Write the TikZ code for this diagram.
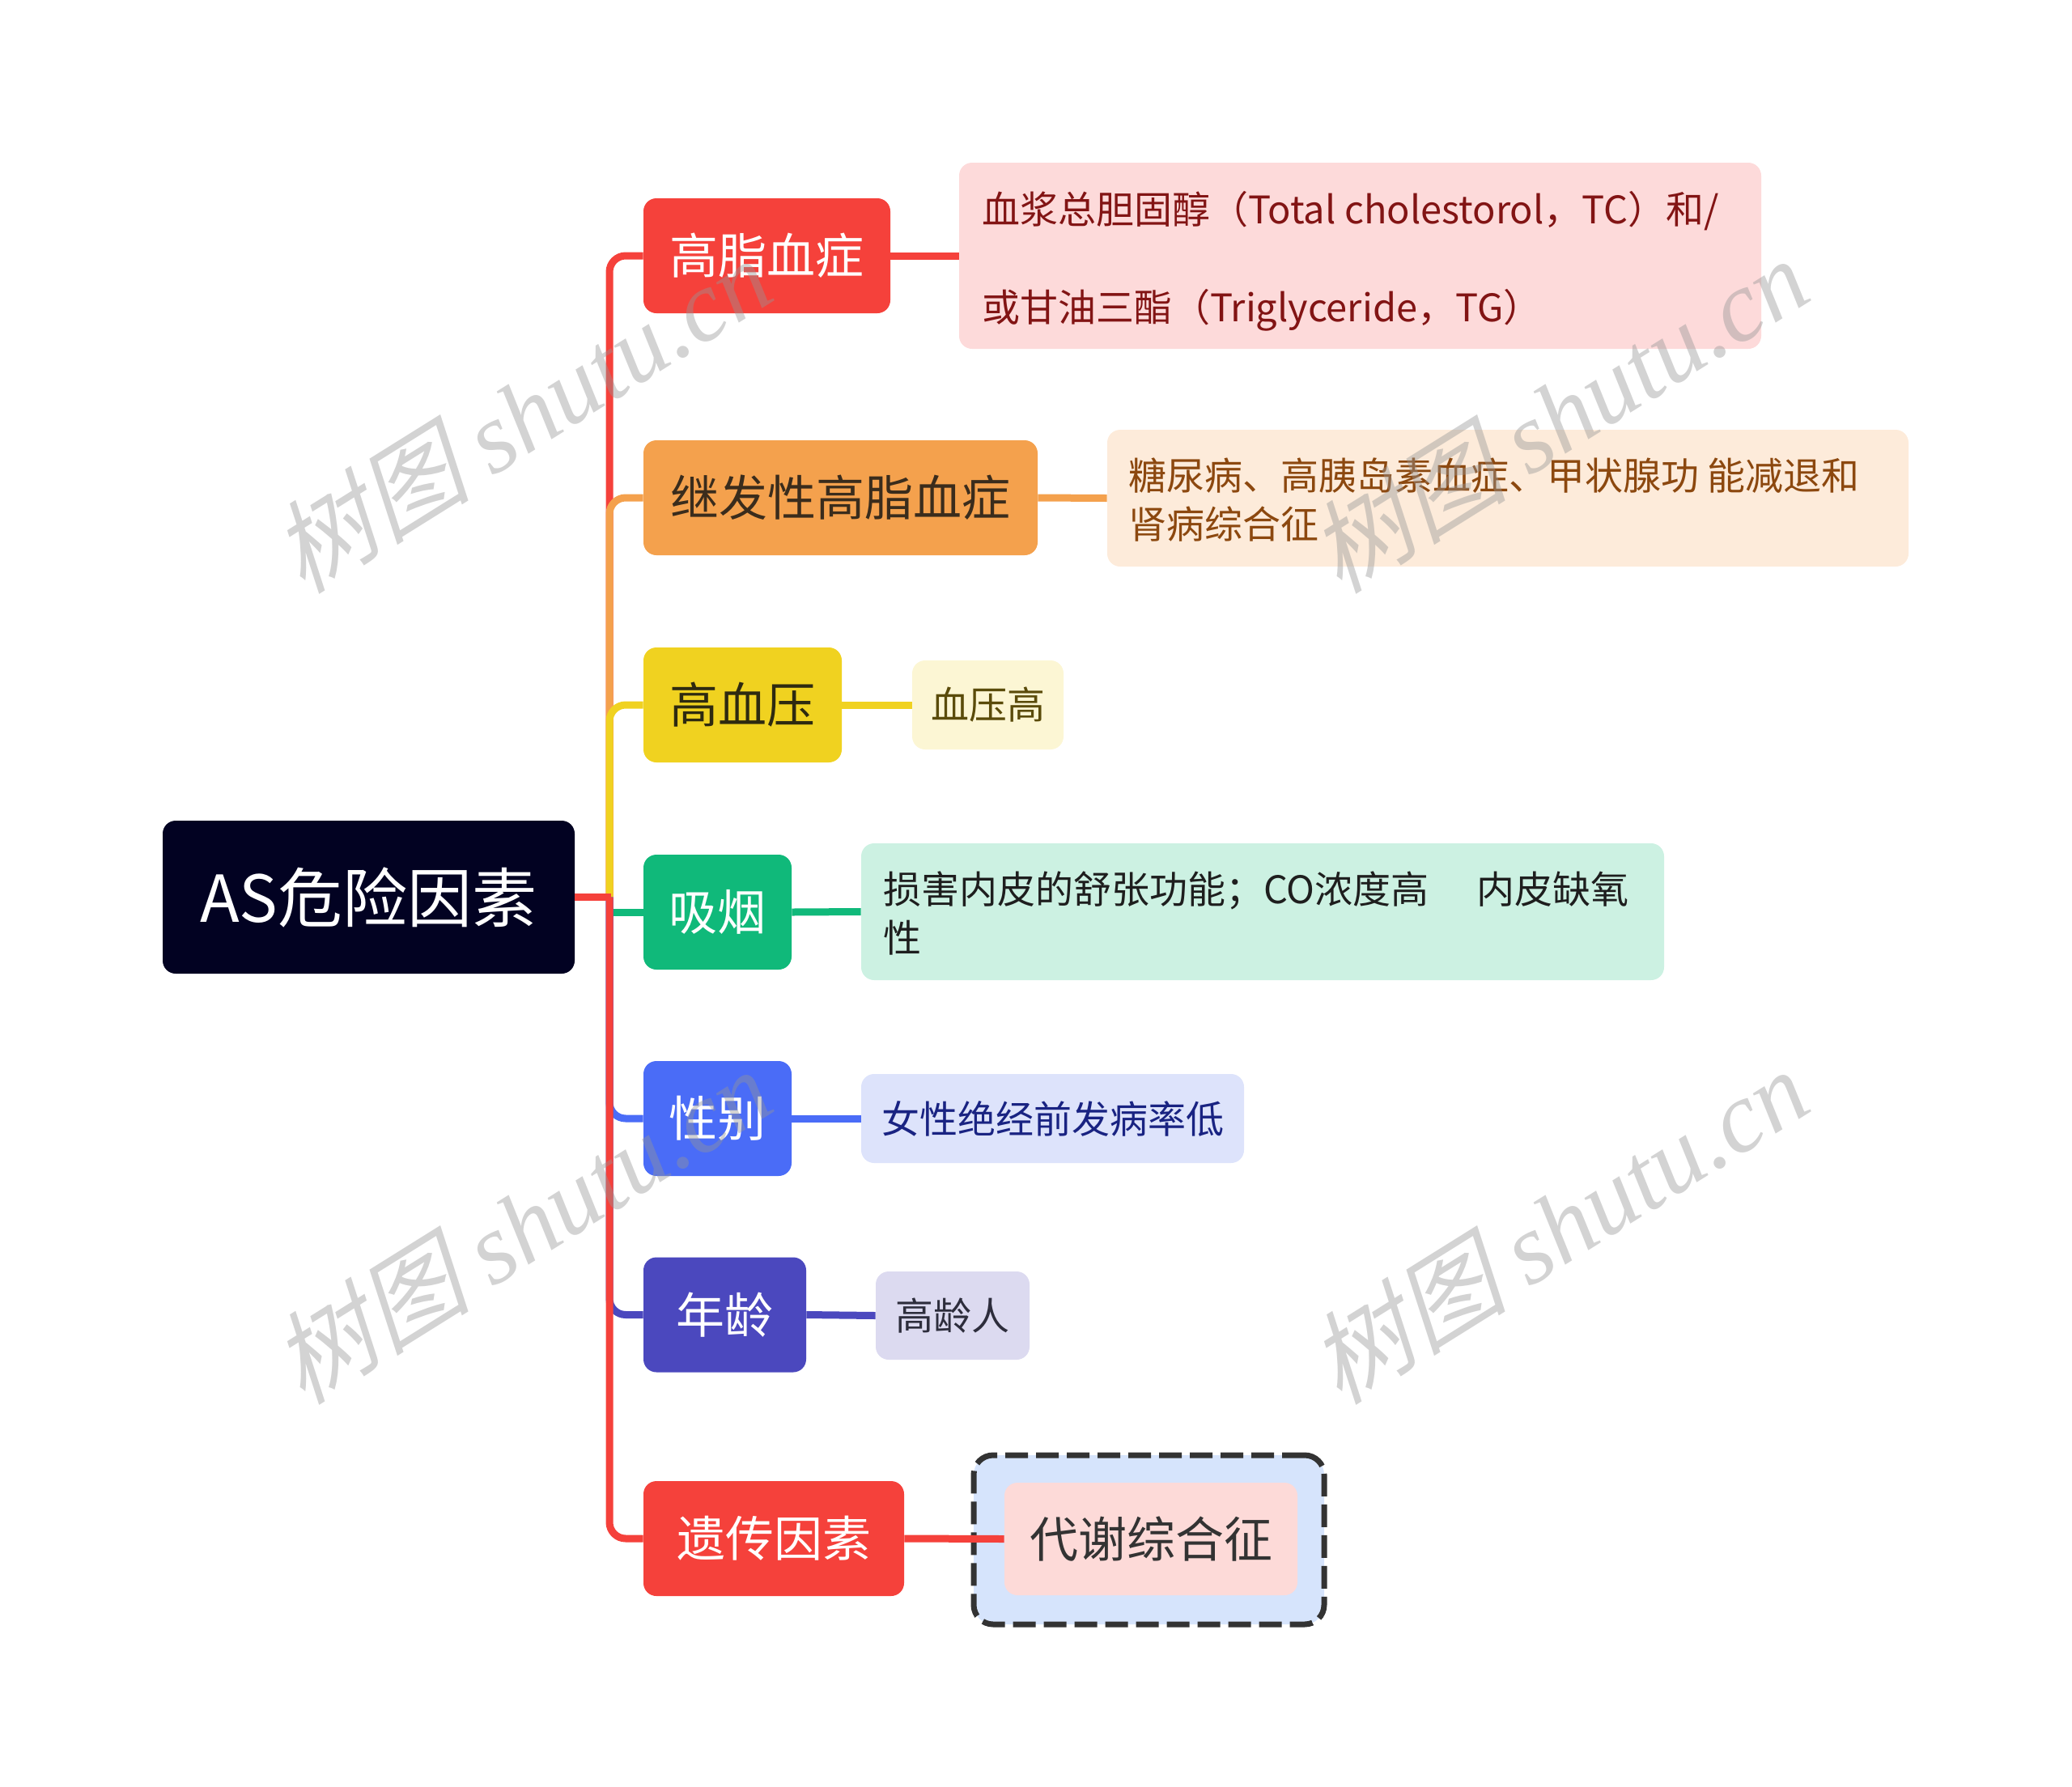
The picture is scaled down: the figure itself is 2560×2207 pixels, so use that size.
\documentclass[tikz,border=0pt]{standalone}
\usepackage{fontspec}
\setmainfont{Noto Sans CJK SC}
\newfontfamily\wmcjk[FakeSlant=0.25]{Noto Sans CJK SC}
\newfontfamily\wmlat{Liberation Serif}
\definecolor{cred}{RGB}{245,65,59}
\definecolor{corange}{RGB}{244,161,77}
\definecolor{cyellow}{RGB}{240,210,32}
\definecolor{cgreen}{RGB}{16,185,122}
\definecolor{cblue}{RGB}{74,108,247}
\definecolor{cpurple}{RGB}{75,72,190}
\definecolor{croot}{RGB}{2,2,34}
\definecolor{fpink}{RGB}{253,218,218}
\definecolor{fpeach}{RGB}{253,235,218}
\definecolor{fcream}{RGB}{252,246,212}
\definecolor{fmint}{RGB}{204,241,226}
\definecolor{flav}{RGB}{221,227,251}
\definecolor{flav2}{RGB}{220,218,240}
\definecolor{fsky}{RGB}{214,228,252}
\definecolor{fpink2}{RGB}{253,218,216}
\definecolor{tred}{RGB}{130,20,20}
\definecolor{tbrown}{RGB}{140,72,15}
\definecolor{tolive}{RGB}{90,75,10}
\definecolor{tdark}{RGB}{30,30,30}
\definecolor{tnavy}{RGB}{25,35,130}
\definecolor{tgrey}{RGB}{45,45,60}
\definecolor{tbr2}{RGB}{58,44,28}
\definecolor{tyel}{RGB}{46,42,16}
\definecolor{wm}{RGB}{150,150,150}
\tikzset{
  rootbox/.style={rounded corners=8pt, inner sep=0pt, fill=croot, text=white,
    font=\fontsize{40pt}{48pt}\selectfont},
  branchbox/.style={rounded corners=8pt, inner sep=0pt, minimum height=71pt,
    font=\fontsize{30pt}{36pt}\selectfont},
  leafbox/.style={rounded corners=8pt, inner sep=0pt,
    font=\fontsize{23.5pt}{30pt}\selectfont},
  leaftext/.style={anchor=west, inner sep=0pt, align=left,
    font=\fontsize{23.5pt}{30pt}\selectfont},
  conn/.style={line width=4.5pt},
  watermark/.style={rotate=32, text=wm, text opacity=0.42,
    font=\fontsize{62pt}{70pt}\selectfont}
}
\begin{document}
\begin{tikzpicture}[x=0.5pt,y=-0.5pt]
\useasboundingbox (0,0) rectangle (2560,2207);

% root
\node[rootbox, minimum width=254.5pt, minimum height=94.5pt] (root) at (455.5,1108.5) {AS危险因素};

% branches
\node[branchbox, fill=cred, text=white, minimum width=152.5pt] (b1) at (947.5,316) {高脂血症};
\node[branchbox, fill=corange, text=tbr2, minimum width=243.5pt] (b2) at (1038.5,615) {继发性高脂血症};
\node[branchbox, fill=cyellow, text=tyel, minimum width=122.5pt] (b3) at (917.5,871) {高血压};
\node[branchbox, fill=cgreen, text=white, minimum width=91.5pt] (b4) at (886.5,1127) {吸烟};
\node[branchbox, fill=cblue, text=white, minimum width=91.5pt] (b5) at (886.5,1382) {性别};
\node[branchbox, fill=cpurple, text=white, minimum width=100.5pt] (b6) at (895.5,1624.5) {年龄};
\node[branchbox, fill=cred, text=white, minimum width=161pt] (b7) at (956,1901) {遗传因素};

% leaves
\node[leafbox, fill=fpink, minimum width=495.5pt, minimum height=115pt] (l1) at (1680.5,316) {};
\node[leaftext, text=tred, font=\fontsize{23.5pt}{60.5pt}\selectfont] (l1t) at ([xshift=14pt,yshift=-3.3pt]l1.west)
  {血浆总胆固醇（Total cholestorol，TC）和/\\或甘油三酯（Triglyceride，TG）};
\node[leafbox, fill=fpeach, minimum width=495pt, minimum height=84.5pt] (l2) at (1863,615.5) {};
\node[leaftext, text=tbrown] (l2t) at ([xshift=13pt,yshift=-1.2pt]l2.west)
  {糖尿病、高胰岛素血症、甲状腺功 能减退和\\肾病综合征};
\node[leafbox, fill=fcream, text=tolive, minimum width=93.5pt, minimum height=55pt] (l3) at (1220.5,871) {血压高};
\node[leafbox, fill=fmint, minimum width=496pt, minimum height=84.5pt] (l4) at (1560,1126.5) {};
\node[leaftext, text=tdark] (l4t) at ([xshift=13.5pt,yshift=-1.2pt]l4.west)
  {损害内皮的舒张功能；CO浓度高\hspace{1.25em}内皮缺氧\\性};
\node[leafbox, fill=flav, text=tnavy, minimum width=236.5pt, minimum height=55pt] (l5) at (1300.5,1382) {女性绝经前发病率低};
\node[leafbox, fill=flav2, text=tgrey, minimum width=95pt, minimum height=54.5pt] (l6) at (1177,1625.5) {高龄人};
\node[rounded corners=12pt, draw=black!80, line width=3.5pt, dash pattern=on 14pt off 5pt,
  fill=fsky, inner sep=0pt, minimum width=216.5pt, minimum height=104.5pt] (l7o) at (1419.5,1902.5) {};
\node[leafbox, fill=fpink2, text=black!80, font=\fontsize{30pt}{36pt}\selectfont,
  minimum width=181pt, minimum height=69.5pt] (l7) at (1422,1901.5) {代谢综合征};

% trunk
\coordinate (T) at (753,1108.5);
\draw[conn, cred, rounded corners=10pt] (T) |- (b1.west);
\draw[conn, corange, rounded corners=10pt] (T) |- (b2.west);
\draw[conn, cyellow, rounded corners=10pt] (T) |- (b3.west);
\draw[conn, cgreen] (T |- b4.west) -- (b4.west);
\draw[conn, cblue, rounded corners=10pt] (T) |- (b5.west);
\draw[conn, cpurple, rounded corners=10pt] (T) |- (b6.west);
\draw[conn, cred, rounded corners=10pt] (T) |- (b7.west);
\draw[conn, cred] (root.east) -- ([xshift=1.2pt]T);

% branch to leaf
\draw[conn, cred] (b1.east) -- (l1.west);
\draw[conn, corange] (b2.east) -- (l2.west);
\draw[conn, cyellow] (b3.east) -- (l3.west);
\draw[conn, cgreen] (b4.east) -- (l4.west);
\draw[conn, cblue] (b5.east) -- (l5.west);
\draw[conn, cpurple] (b6.east) -- (l6.west);
\draw[conn, cred] (b7.east) -- (l7.west);

% watermarks
\node[watermark] (wm1) at (643,512) {{\wmcjk 树图} {\wmlat\itshape shutu.cn}};
\node[watermark] (wm2) at (1924,512) {{\wmcjk 树图} {\wmlat\itshape shutu.cn}};
\node[watermark] (wm3) at (643,1514) {{\wmcjk 树图} {\wmlat\itshape shutu.cn}};
\node[watermark] (wm4) at (1924,1514) {{\wmcjk 树图} {\wmlat\itshape shutu.cn}};
\end{tikzpicture}
\end{document}
